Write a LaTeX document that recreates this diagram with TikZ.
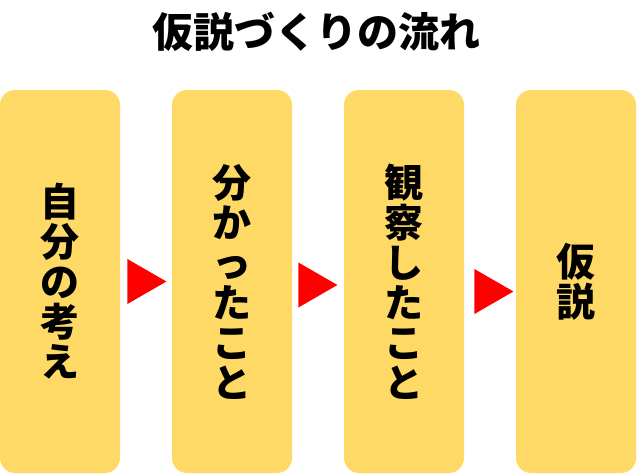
\documentclass[tikz,border=0pt]{standalone}
\usepackage{fontspec}
\newfontfamily\cjk{Noto Sans CJK JP}
\usetikzlibrary{shapes.geometric,calc}
\definecolor{boxfill}{HTML}{FFD966}
\definecolor{arrowred}{HTML}{FF0000}
\tikzset{
  stepbox/.style={fill=boxfill, draw=none, rounded corners=15pt, minimum width=120pt, minimum height=383pt, inner sep=0pt, align=center, font=\cjk\bfseries\fontsize{39}{40}\selectfont},
  flowtri/.style={isosceles triangle, isosceles triangle stretches, minimum width=45pt, minimum height=39pt, fill=arrowred, draw=none, inner sep=0pt, anchor=west},
  titletext/.style={font=\cjk\bfseries\fontsize{41}{44}\selectfont}
}
\begin{document}
\begin{tikzpicture}[x=1pt,y=-1pt]
\useasboundingbox (0,0) rectangle (637,474);
\node[titletext] (title) at (316,32) {仮説づくりの流れ};
\node[stepbox] (b1) at (60,281.5) {自\\分\\の\\考\\え};
\node[stepbox] (b2) at (232,281.5) {分\\か\\っ\\た\\こ\\と};
\node[stepbox] (b3) at (404,281.5) {観\\察\\し\\た\\こ\\と};
\node[stepbox] (b4) at (576,281.5) {仮\\説};
\node[flowtri] (a1) at ($(b1.east)+(7,0)$) {};
\node[flowtri] (a2) at ($(b2.east)+(6,3.5)$) {};
\node[flowtri] (a3) at ($(b3.east)+(10,10)$) {};
\end{tikzpicture}
\end{document}
